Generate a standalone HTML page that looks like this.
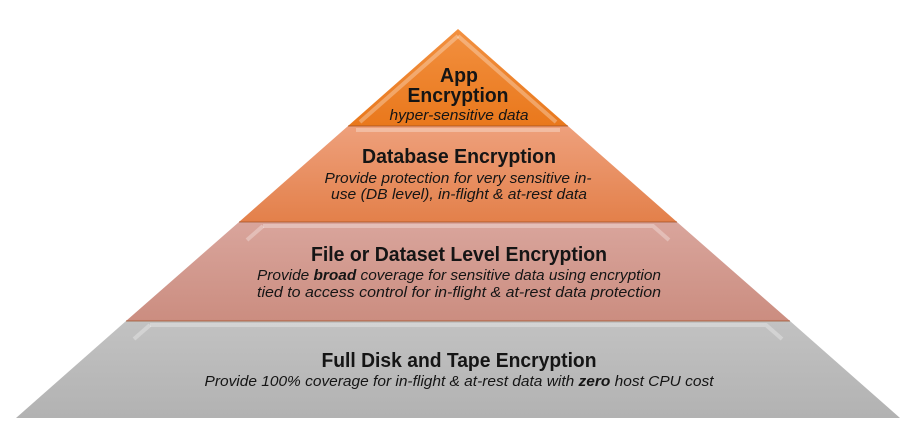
<!DOCTYPE html>
<html><head><meta charset="utf-8"><style>
html,body{margin:0;padding:0;background:#fff;}
svg{display:block}
.t{font-family:"Liberation Sans",sans-serif;fill:#151515;text-anchor:middle}
.b{font-weight:bold;font-size:20px}
.i{font-style:italic;font-size:14.5px}
</style></head><body>
<svg width="900" height="427" viewBox="0 0 900 427" xmlns="http://www.w3.org/2000/svg">
<defs>
<linearGradient id="g1" x1="0" y1="0" x2="0" y2="1"><stop offset="0" stop-color="#f29040"/><stop offset="1" stop-color="#e9781c"/></linearGradient>
<linearGradient id="g2" x1="0" y1="0" x2="0" y2="1"><stop offset="0" stop-color="#eea07c"/><stop offset="1" stop-color="#e3804a"/></linearGradient>
<linearGradient id="g3" x1="0" y1="0" x2="0" y2="1"><stop offset="0" stop-color="#d9a59c"/><stop offset="1" stop-color="#cb8d80"/></linearGradient>
<linearGradient id="g4" x1="0" y1="0" x2="0" y2="1"><stop offset="0" stop-color="#c2c2c2"/><stop offset="1" stop-color="#b2b2b2"/></linearGradient>
</defs>
<polygon points="458,29 568,126 348,126" fill="url(#g1)"/>
<polygon points="348,126 568,126 677,222 239,222" fill="url(#g2)"/>
<polygon points="239,222 677,222 790,321 126,321" fill="url(#g3)"/>
<polygon points="126,321 790,321 900,418 16,418" fill="url(#g4)"/>
<g fill="none" stroke="#fff" stroke-opacity="0.3" stroke-width="4">
<polyline points="458,36 360,122"/>
<polyline points="458,36 556,122"/>
<polyline points="356,130 560,130"/>
<polyline points="263,226 653,226 669,240"/>
<polyline points="263,226 247,240"/>
<polyline points="150,325 766,325 782,339"/>
<polyline points="150,325 134,339"/>
</g>
<g stroke="#9a4a20" stroke-opacity="0.35" stroke-width="2">
<line x1="348" y1="126" x2="568" y2="126"/>
<line x1="239" y1="222" x2="677" y2="222"/>
<line x1="126" y1="321" x2="790" y2="321"/>
</g>
<text class="t b" x="459" y="82" textLength="38" lengthAdjust="spacingAndGlyphs">App</text>
<text class="t b" x="458" y="102" textLength="101" lengthAdjust="spacingAndGlyphs">Encryption</text>
<text class="t i" x="459" y="120" textLength="139" lengthAdjust="spacingAndGlyphs">hyper-sensitive data</text>
<text class="t b" x="459" y="163" textLength="194" lengthAdjust="spacingAndGlyphs">Database Encryption</text>
<text class="t i" x="458" y="183" textLength="267" lengthAdjust="spacingAndGlyphs">Provide protection for very sensitive in-</text>
<text class="t i" x="459" y="199" textLength="256" lengthAdjust="spacingAndGlyphs">use (DB level), in-flight &amp; at-rest data</text>
<text class="t b" x="459" y="261" textLength="296" lengthAdjust="spacingAndGlyphs">File or Dataset Level Encryption</text>
<text class="t i" x="459" y="280" textLength="404" lengthAdjust="spacingAndGlyphs">Provide <tspan font-weight="bold">broad</tspan> coverage for sensitive data using encryption</text>
<text class="t i" x="459" y="297" textLength="404" lengthAdjust="spacingAndGlyphs">tied to access control for in-flight &amp; at-rest data protection</text>
<text class="t b" x="459" y="367" textLength="275" lengthAdjust="spacingAndGlyphs">Full Disk and Tape Encryption</text>
<text class="t i" x="459" y="386" textLength="509" lengthAdjust="spacingAndGlyphs">Provide 100% coverage for in-flight &amp; at-rest data with <tspan font-weight="bold">zero</tspan> host CPU cost</text>
</svg>
</body></html>
